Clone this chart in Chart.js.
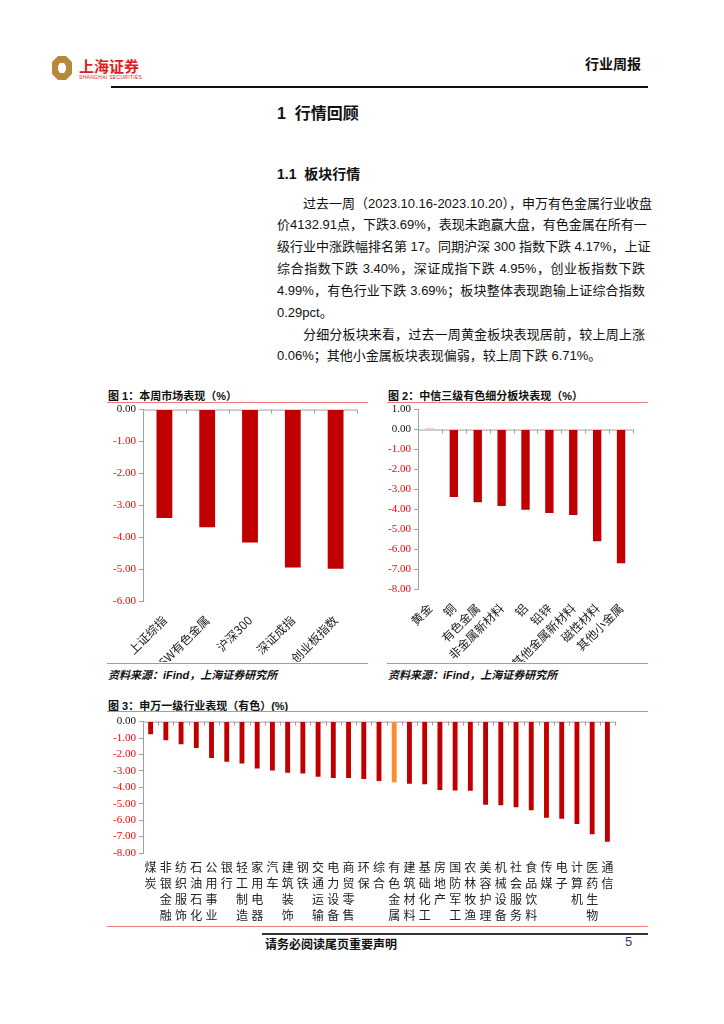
<!DOCTYPE html>
<html>
<head>
<meta charset="utf-8">
<script src="https://cdn.jsdelivr.net/npm/chart.js@4.4.0/dist/chart.umd.min.js"></script>
<style>
body { margin: 0; background: #fff; }
#page { position: relative; width: 724px; height: 1024px; overflow: hidden; font-family: "Liberation Sans", "Noto Sans CJK SC", sans-serif; color: #111; }
.abs { position: absolute; }
.line { position: absolute; left: 277px; width: 368px; font-size: 13px; line-height: 22px; text-align: justify; text-align-last: justify; white-space: nowrap; }
.para { position: absolute; left: 277px; font-size: 13px; line-height: 22px; }
.figtitle { position: absolute; font-size: 11px; font-weight: bold; color: #111; }
.redline { position: absolute; height: 0; border-top: 1.5px solid #f07c7c; }
.src { position: absolute; font-size: 11px; font-weight: bold; font-style: italic; color: #111; }
canvas { position: absolute; }
</style>
</head>
<body>
<div id="page">
  <!-- header -->
  <svg class="abs" style="left:51px;top:55px" width="22" height="26" viewBox="0 0 22 26">
    <polygon points="7,1 15,1 21,7 21,19 15,25 7,25 1,19 1,7" fill="#b8893a"/>
    <polygon points="9,8 13,8 15,11 15,15 13,18 9,18 7,15 7,11" fill="#fff"/>
  </svg>
  <div class="abs" style="left:79px;top:55px;font-size:15px;font-weight:bold;color:#e02020">上海证券</div>
  <div class="abs" style="left:79px;top:74px;font-size:5px;color:#e02020;letter-spacing:0.3px">SHANGHAI SECURITIES</div>
  <div class="abs" style="left:585px;top:53px;font-size:14px;font-weight:bold">行业周报</div>
  <div class="abs" style="left:111px;top:86px;width:537px;height:2px;background:#111"></div>

  <div class="abs" style="left:277px;top:100px;font-size:16px;font-weight:bold">1&nbsp;&nbsp;行情回顾</div>
  <div class="abs" style="left:277px;top:163px;font-size:14px;font-weight:bold">1.1&nbsp;&nbsp;板块行情</div>

  <div class="line" style="top:193px;left:303px;width:342px">过去一周（2023.10.16-2023.10.20），申万有色金属行业收盘</div>
  <div class="line" style="top:214px">价4132.91点，下跌3.69%，表现未跑赢大盘，有色金属在所有一</div>
  <div class="line" style="top:236px">级行业中涨跌幅排名第 17。同期沪深 300 指数下跌 4.17%，上证</div>
  <div class="line" style="top:258px">综合指数下跌 3.40%，深证成指下跌 4.95%，创业板指数下跌</div>
  <div class="line" style="top:280px">4.99%，有色行业下跌 3.69%；板块整体表现跑输上证综合指数</div>
  <div class="para" style="top:302px">0.29pct。</div>
  <div class="line" style="top:324px;left:303px;width:342px">分细分板块来看，过去一周黄金板块表现居前，较上周上涨</div>
  <div class="para" style="top:345px">0.06%；其他小金属板块表现偏弱，较上周下跌 6.71%。</div>

  <!-- figure 1 -->
  <div class="figtitle" style="left:108px;top:387px">图 1：本周市场表现（%）</div>
  <div class="redline" style="left:107px;top:402px;width:261px"></div>
  <canvas id="fig1" style="left:107px;top:400px" width="260" height="262"></canvas>
  <div class="redline" style="left:107px;top:663px;width:261px"></div>
  <div class="src" style="left:108px;top:666px">资料来源：iFind，上海证券研究所</div>

  <!-- figure 2 -->
  <div class="figtitle" style="left:388px;top:387px">图 2：中信三级有色细分板块表现（%）</div>
  <div class="redline" style="left:387px;top:402px;width:261px"></div>
  <canvas id="fig2" style="left:387px;top:400px" width="260" height="262"></canvas>
  <div class="redline" style="left:387px;top:663px;width:261px"></div>
  <div class="src" style="left:388px;top:666px">资料来源：iFind，上海证券研究所</div>

  <!-- figure 3 -->
  <div class="figtitle" style="left:108px;top:697px">图 3：申万一级行业表现（有色）(%)</div>
  <div class="redline" style="left:107px;top:711px;width:541px"></div>
  <canvas id="fig3" style="left:107px;top:712px" width="541" height="212"></canvas>
  <div class="redline" style="left:107px;top:926px;width:541px"></div>

  <!-- footer -->
  <div class="abs" style="left:262px;top:933px;width:386px;height:1.5px;background:#333"></div>
  <div class="abs" style="left:265px;top:935px;font-size:12px;font-weight:bold">请务必阅读尾页重要声明</div>
  <div class="abs" style="left:625px;top:934px;font-size:13px;color:#1f3c78">5</div>
</div>

<script>
// 图1 本周市场表现
const fig1Labels = ['上证综指', 'SW有色金属', '沪深300', '深证成指', '创业板指数'];
const fig1Values = [-3.40, -3.69, -4.17, -4.95, -4.99];

// 图2 中信三级有色细分板块表现
const fig2Labels = ['黄金', '铜', '有色金属', '非金属新材料', '铝', '铅锌', '其他金属新材料', '磁性材料', '其他小金属'];
const fig2Values = [0.06, -3.39, -3.65, -3.83, -4.03, -4.19, -4.29, -5.60, -6.71];

// 图3 申万一级行业表现
const fig3Labels = ['煤炭', '非银金融', '纺织服饰', '石油石化', '公用事业', '银行', '轻工制造', '家用电器', '汽车', '建筑装饰',
    '钢铁', '交通运输', '电力设备', '商贸零售', '环保', '综合', '有色金属', '建筑材料', '基础化工', '房地产',
    '国防军工', '农林牧渔', '美容护理', '机械设备', '社会服务', '食品饮料', '传媒', '电子', '计算机', '医药生物', '通信'];
const fig3Values = [-0.77, -1.13, -1.38, -1.60, -2.21, -2.45, -2.55, -2.85, -2.98, -3.12,
    -3.16, -3.36, -3.44, -3.44, -3.50, -3.62, -3.69, -3.79, -3.81, -4.17,
    -4.19, -4.21, -5.06, -5.10, -5.22, -5.40, -5.85, -5.91, -6.23, -6.86, -7.31];
const fig3Highlight = '有色金属';

const barRed = '#c00000';
const barOrange = '#ff8c2e';
const axisGray = '#a0a0a0';

Chart.defaults.font.family = '"Liberation Serif", "Noto Sans CJK SC", serif';
Chart.defaults.animation = false;

// zero line with small tick marks between categories
const zeroLine = {
    id: 'zeroLine',
    beforeDatasetsDraw(chart) {
        let x = chart.scales.x, y = chart.scales.y, ctx = chart.ctx;
        let y0 = y.getPixelForValue(0);
        let step = x.getPixelForValue(1) - x.getPixelForValue(0);
        ctx.save();
        ctx.strokeStyle = axisGray;
        ctx.lineWidth = 1;
        ctx.beginPath();
        ctx.moveTo(chart.chartArea.left, y0 + 0.5);
        ctx.lineTo(chart.chartArea.right, y0 + 0.5);
        for (let i = 0; i <= chart.data.labels.length; i++) {
            let px = Math.round(x.getPixelForValue(i) - step / 2) + 0.5;
            ctx.moveTo(px, y0);
            ctx.lineTo(px, y0 + 4);
        }
        ctx.stroke();
        ctx.restore();
    }
};

// vertical (one char per row) category labels under the x scale
const stackedLabels = {
    id: 'stackedLabels',
    afterDraw(chart) {
        let x = chart.scales.x, ctx = chart.ctx;
        let top = chart.chartArea.bottom + 14;
        ctx.save();
        ctx.fillStyle = '#222';
        ctx.font = '12px "Noto Sans CJK SC", serif';
        ctx.textAlign = 'center';
        ctx.textBaseline = 'middle';
        chart.data.labels.forEach(function(label, i) {
            let px = x.getPixelForValue(i);
            Array.from(label).forEach(function(ch, j) {
                ctx.fillText(ch, px, top + j * 16);
            });
        });
        ctx.restore();
    }
};

function makeBarChart(id, labels, values, colors, opts) {
    let ctx = document.getElementById(id).getContext('2d');
    return new Chart(ctx, {
        type: 'bar',
        data: {
            labels: labels,
            datasets: [{
                data: values,
                backgroundColor: colors,
                barPercentage: opts.barPct,
                categoryPercentage: 1
            }]
        },
        plugins: opts.stacked ? [zeroLine, stackedLabels] : [zeroLine],
        options: {
            responsive: false,
            layout: { padding: opts.padding },
            plugins: { legend: { display: false }, tooltip: { enabled: false } },
            scales: {
                x: {
                    grid: { display: false },
                    border: { display: false },
                    ticks: {
                        display: !opts.stacked,
                        autoSkip: false,
                        minRotation: opts.rotation,
                        maxRotation: opts.rotation,
                        color: '#222',
                        padding: 4,
                        font: { family: '"Noto Sans CJK SC", serif', size: 12 }
                    },
                    afterFit: function(s) { s.height = opts.xHeight; }
                },
                y: {
                    min: opts.min,
                    max: opts.max,
                    ticks: {
                        stepSize: 1,
                        padding: 3,
                        color: function(c) { return c.tick.value < 0 ? '#ff0000' : '#111'; },
                        font: { size: 11 },
                        callback: function(v) { return v.toFixed(2); }
                    },
                    grid: { drawOnChartArea: false, drawTicks: true, tickLength: 4, tickColor: axisGray },
                    border: { display: true, color: axisGray },
                    afterFit: function(s) { s.width = opts.yWidth; }
                }
            }
        }
    });
}

makeBarChart('fig1', fig1Labels, fig1Values, barRed, {
    barPct: 0.37, min: -6, max: 0, rotation: 45,
    xHeight: 61, yWidth: 36, padding: { top: 8, right: 10, left: 0, bottom: 0 }
});

makeBarChart('fig2', fig2Labels, fig2Values, fig2Values.map(v => v > 0 ? '#f4b8b8' : barRed), {
    barPct: 0.35, min: -8, max: 1, rotation: 45,
    xHeight: 73, yWidth: 31, padding: { top: 8, right: 14, left: 0, bottom: 0 }
});

makeBarChart('fig3', fig3Labels, fig3Values,
    fig3Labels.map(l => l == fig3Highlight ? barOrange : barRed), {
    barPct: 0.32, min: -8, max: 0, rotation: 0, stacked: true,
    xHeight: 71, yWidth: 36, padding: { top: 6, right: 33, left: 0, bottom: 0 }
});
</script>
</body>
</html>
